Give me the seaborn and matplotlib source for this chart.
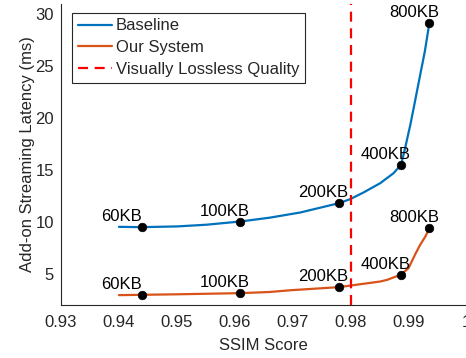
import matplotlib
matplotlib.use("Agg")
import matplotlib.pyplot as plt
import seaborn as sns

# points (labelled image sizes)
sizes = ['60KB', '100KB', '200KB', '400KB', '800KB']
ssim = [0.9439, 0.9609, 0.9780, 0.9887, 0.9936]
baseline_ms = [9.49, 10.03, 11.80, 15.48, 29.16]
ours_ms = [2.98, 3.14, 3.72, 4.93, 9.39]

# smooth curves
base_curve_x = [0.9400, 0.9439, 0.9500, 0.9550, 0.9609, 0.9660, 0.9713, 0.9780, 0.9799,
                0.9822, 0.9851, 0.9874, 0.9887, 0.9894, 0.9903, 0.9911, 0.9920, 0.9928, 0.9936]
base_curve_y = [9.52, 9.49, 9.56, 9.72, 10.03, 10.40, 10.90, 11.80, 12.18,
                12.82, 13.72, 14.68, 15.48, 17.09, 19.33, 21.57, 24.13, 26.38, 29.16]
ours_curve_x = [0.9400, 0.9439, 0.9500, 0.9550, 0.9609, 0.9660, 0.9696, 0.9780, 0.9822,
                0.9851, 0.9863, 0.9887, 0.9900, 0.9911, 0.9920, 0.9929, 0.9936]
ours_curve_y = [2.95, 2.98, 3.03, 3.08, 3.14, 3.25, 3.42, 3.72, 4.04,
                4.26, 4.42, 4.93, 5.55, 6.83, 7.79, 8.59, 9.39]

lossless_ssim = 0.98
xticks = [0.93, 0.94, 0.95, 0.96, 0.97, 0.98, 0.99, 1.0]
xtick_labels = ['0.93', '0.94', '0.95', '0.96', '0.97', '0.98', '0.99', '1']
yticks = [5, 10, 15, 20, 25, 30]

sns.set_theme(style='white')
plt.rcParams['font.family'] = ['Liberation Sans', 'DejaVu Sans']
plt.rcParams['font.size'] = 12
dark = '#262626'

fig = plt.figure(figsize=(4.66, 3.58), dpi=100)
ax = fig.add_axes([61 / 466, 53 / 358, 405.5 / 466, 301.4 / 358])

sns.lineplot(x=base_curve_x, y=base_curve_y, ax=ax, color='#0072BD', lw=1.6,
             label='Baseline', sort=False, estimator=None)
sns.lineplot(x=ours_curve_x, y=ours_curve_y, ax=ax, color='#D95319', lw=1.6,
             label='Our System', sort=False, estimator=None)
ax.axvline(lossless_ssim, color='red', lw=1.6, ls=(0, (4.5, 3)), label='Visually Lossless Quality')

sns.scatterplot(x=ssim, y=baseline_ms, ax=ax, color='black', s=38, edgecolor='black', zorder=5, legend=False)
sns.scatterplot(x=ssim, y=ours_ms, ax=ax, color='black', s=38, edgecolor='black', zorder=5, legend=False)

for xv, yb, yo, name in zip(ssim, baseline_ms, ours_ms, sizes):
    ax.text(xv - 0.007, yb + 1.0, name, fontsize=12, ha='left', va='center', color='black')
    ax.text(xv - 0.007, yo + 1.0, name, fontsize=12, ha='left', va='center', color='black')

ax.set_xlim(0.93, 1.0)
ax.set_ylim(2, 31)
ax.set_xticks(xticks)
ax.set_xticklabels(xtick_labels)
ax.set_yticks(yticks)
ax.tick_params(direction='in', length=4, width=0.7, colors=dark, labelsize=12)
ax.tick_params(axis='x', pad=7)
ax.tick_params(axis='y', pad=5)
ax.set_xlabel('SSIM Score', fontsize=12, color=dark, labelpad=6)
ax.set_ylabel('Add-on Streaming Latency (ms)', fontsize=12, color=dark, labelpad=0)

for side in ['top', 'right']:
    ax.spines[side].set_visible(False)
for side in ['left', 'bottom']:
    ax.spines[side].set_color(dark)
    ax.spines[side].set_linewidth(0.8)

leg = ax.legend(loc='upper left', bbox_to_anchor=(0.028, 0.97), borderaxespad=0,
                fancybox=False, framealpha=1, edgecolor=dark, fontsize=12,
                handlelength=2.0, handletextpad=0.25, labelspacing=0.4, borderpad=0.35)
leg.get_frame().set_linewidth(0.8)

fig.savefig('out.png', dpi=100)
